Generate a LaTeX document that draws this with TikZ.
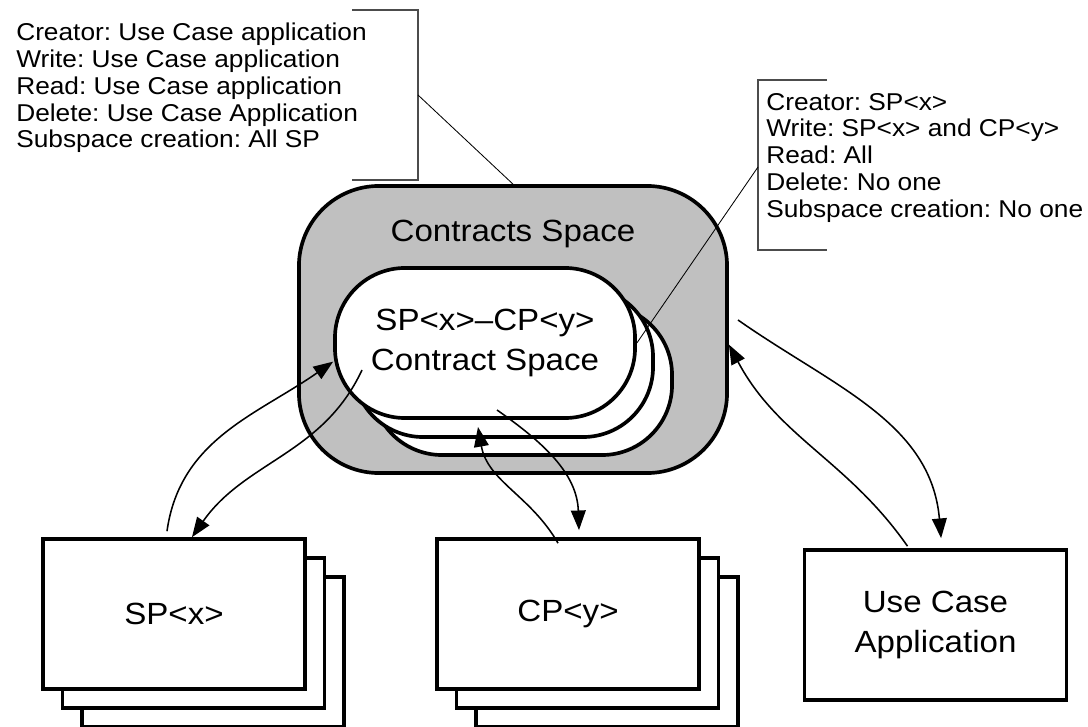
\documentclass[tikz,border=0pt]{standalone}
\usepackage{fontspec}
\setmainfont{Liberation Sans}[FakeStretch=1.08]
\usetikzlibrary{arrows.meta}
\definecolor{zonegray}{HTML}{C0C0C0}
\newcommand\bigfont{\fontsize{21.8}{28}\selectfont}
\newcommand\smallfont{\fontsize{17.3}{19}\selectfont}
\frenchspacing

\begin{document}
\begin{tikzpicture}[x=0.025cm,y=0.025cm,
  outline/.style={draw,line width=2.6pt},
  zone/.style={outline,rectangle,rounded corners=2cm,fill=zonegray,
    minimum width=10.7cm,minimum height=7.175cm},
  stadium/.style={outline,rectangle,rounded corners=1.75cm,fill=white,
    minimum width=7.5cm,minimum height=3.75cm,inner sep=0,align=center,font=\bigfont},
  card/.style={outline,rectangle,fill=white,minimum width=6.55cm,
    minimum height=3.75cm,inner sep=0,align=center,font=\bigfont},
  flow/.style={line width=1.1pt,-{Triangle[length=14pt,width=10.5pt]}},
  bracket/.style={draw=black!70,line width=0.8pt},
  lead/.style={line width=0.6pt},
  perm/.style={anchor=north west,inner sep=0,align=left,font=\smallfont}]
\useasboundingbox (0,0) rectangle (1088,-727);
% espace des contrats
\node[zone] (outer) at (513,-329.5) {};
\node[font=\bigfont,anchor=base] (cstitle) at (513,-242) {Contracts Space};
% sous-espaces
\node[stadium] (frontC) at (522,-380) {};
\node[stadium] (frontB) at (503,-362) {};
\node[stadium] (front) at (485,-343) {SP<x>--CP<y>\\Contract Space};
% fournisseurs
\node[card] (spC) at (213,-652) {};
\node[card] (spB) at (193.5,-633) {};
\node[card] (spA) at (174,-614) {SP<x>};
% clients
\node[card] (cpC) at (607,-652) {};
\node[card] (cpB) at (587.5,-633) {};
\node[card] (cpA) at (568,-614) {CP<y>};
% application
\node[card] (uca) at (935.5,-625) {Use Case\\Application};
% fleches
\coordinate (frontIn) at (362,-370);
\coordinate (frontOut) at (497,-410);
\coordinate (stackIn) at (478,-427);
\coordinate (outerOut) at (738,-320);
\draw[flow] ([xshift=-0.175cm,yshift=0.15cm]spA.north) to[out=82,in=215] (front.187);
\draw[flow] (frontIn) to[out=245,in=55] ([xshift=0.45cm]spA.north);
\draw[flow] ([xshift=-0.25cm,yshift=-0.15cm]cpA.north) to[out=120,in=-80] (stackIn);
\draw[flow] (frontOut) to[out=-35,in=92] ([xshift=0.275cm,yshift=0.175cm]cpA.north);
\draw[flow] ([xshift=-0.7cm,yshift=0.05cm]uca.north) to[out=125,in=-62] (outer.-4);
\draw[flow] (outerOut) to[out=-35,in=95] ([xshift=0.14cm,yshift=0.25cm]uca.north);
% droits
\coordinate (brA) at (418,-95);
\coordinate (brB) at (758,-167);
\draw[bracket] (352,-10) -- (418,-10) -- (418,-180) -- (352,-180);
\draw[bracket] (827,-80) -- (758,-80) -- (758,-250) -- (827,-250);
\draw[lead] (brA) -- (outer.north);
\draw[lead] (brB) -- (front.east);
\node[perm] (permCS) at (16,-23) {Creator: Use Case application\\Write: Use Case application\\Read: Use Case application\\Delete: Use Case Application\\Subspace creation: All SP};
\node[perm] (permSub) at (766,-93) {Creator: SP<x>\\Write: SP<x> and CP<y>\\Read: All\\Delete: No one\\Subspace creation: No one};
\end{tikzpicture}
\end{document}
